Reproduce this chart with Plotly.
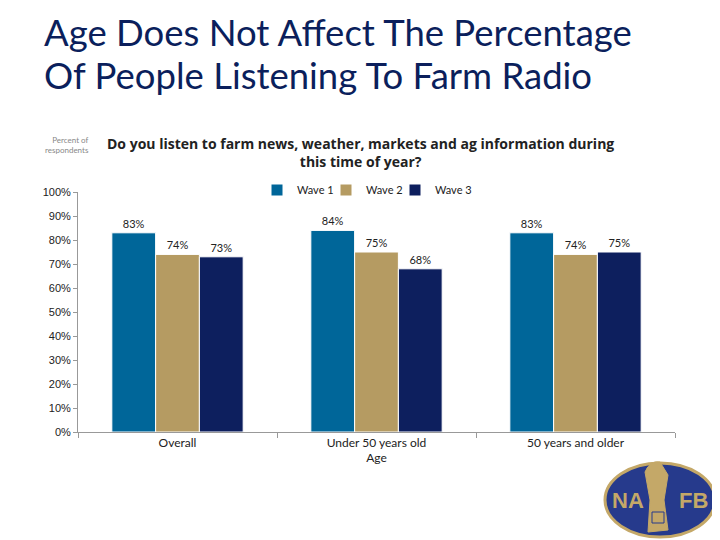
import plotly.graph_objects as go

categories = ["Overall", "Under 50 years old", "50 years and older"]
series_names = ["Wave 1", "Wave 2", "Wave 3"]
wave1 = [83, 84, 83]
wave2 = [74, 75, 74]
wave3 = [73, 68, 75]
colors = ["#006699", "#B59B62", "#0D1F5E"]
y_ticks = [0, 10, 20, 30, 40, 50, 60, 70, 80, 90, 100]

# page body has an 8px default margin; size the figure so it fits the 720x540 window
OFF = 8
W, H = 720 - OFF, 540 - OFF
L, R, T, B = 78 - OFF, 45, 192 - OFF, 108
pw, ph = W - L - R, H - T - B


def px(x):
    """reference window pixel x -> paper x"""
    return (x - OFF - L) / pw


def py(y):
    """reference window pixel y -> paper y"""
    return (H - B - (y - OFF)) / ph


FONT = "Lato"
NARROW = "Liberation Sans Narrow, Arial Narrow, Liberation Sans"

fig = go.Figure()
for i, (name, vals, c) in enumerate(zip(series_names, [wave1, wave2, wave3], colors)):
    fig.add_trace(go.Bar(
        name=name, x=categories, y=vals,
        marker=dict(color=c, line=dict(color="white", width=1)),
        text=[f"{v}%" for v in vals], textposition="outside", cliponaxis=False,
        textfont=dict(family=FONT, size=11, color="#222222"),
        legendwidth=(24 if i < 2 else 45),
    ))

fig.update_layout(
    width=W, height=H, barmode="group", bargap=0.34, bargroupgap=0,
    margin=dict(l=L, r=R, t=T, b=B, autoexpand=False),
    paper_bgcolor="white", plot_bgcolor="white",
    font=dict(family=FONT, size=11, color="#222222"),
    showlegend=True,
    legend=dict(orientation="h", x=px(257), xanchor="left", y=py(190), yanchor="middle",
                font=dict(family=FONT, size=11, color="#222222"), itemwidth=30,
                entrywidthmode="pixels",
                traceorder="normal", bgcolor="rgba(0,0,0,0)"),
    xaxis=dict(showline=True, linecolor="#999999", linewidth=1, ticks="outside", tickson="boundaries",
               ticklen=5, tickcolor="#999999", showgrid=False,
               title=dict(text="Age", font=dict(family=FONT, size=12, color="#222222"), standoff=1),
               tickfont=dict(family=FONT, size=12, color="#222222")),
    yaxis=dict(range=[0, 100], tickvals=y_ticks, ticktext=[f"{v}%" for v in y_ticks],
               showline=True, linecolor="#999999", linewidth=1, ticks="outside", ticklen=4,
               tickcolor="#999999", showgrid=False, zeroline=False,
               tickfont=dict(family=NARROW, size=11, color="#222222")),
)

ann = []
ann.append(dict(text="Age Does Not Affect The Percentage",
                xref="paper", yref="paper", x=px(42), y=py(32), xanchor="left", yanchor="middle",
                align="left", showarrow=False,
                font=dict(family=FONT, size=36.5, color="#0B1F5C")))
ann.append(dict(text="Of People Listening To Farm Radio",
                xref="paper", yref="paper", x=px(42), y=py(75), xanchor="left", yanchor="middle",
                align="left", showarrow=False,
                font=dict(family=FONT, size=36.5, color="#0B1F5C")))
ann.append(dict(text="<b>Do you listen to farm news, weather, markets and ag information during<br>this time of year?</b>",
                xref="paper", yref="paper", x=px(360), y=py(152), xanchor="center", yanchor="middle",
                align="center", showarrow=False,
                font=dict(family="Open Sans", size=14, color="#222222")))
ann.append(dict(text="Percent of<br>respondents", xref="paper", yref="paper", x=px(91), y=py(145),
                xanchor="right", yanchor="middle", align="right", showarrow=False,
                font=dict(family=FONT, size=8, color="#888888")))
# logo text
LOGO_FONT = "Liberation Sans Narrow, Liberation Sans"
ann.append(dict(text="<b>NA</b>", xref="paper", yref="paper", x=px(628), y=py(500), xanchor="center",
                yanchor="middle", showarrow=False, font=dict(family=LOGO_FONT, size=22, color="#C4A868")))
ann.append(dict(text="<b>FB</b>", xref="paper", yref="paper", x=px(693), y=py(500), xanchor="center",
                yanchor="middle", showarrow=False, font=dict(family=LOGO_FONT, size=22, color="#C4A868")))
fig.update_layout(annotations=ann)

shapes = []
shapes.append(dict(type="circle", xref="paper", yref="paper", x0=px(605), x1=px(715), y0=py(463), y1=py(537),
                   fillcolor="#263A8C", line=dict(color="#C4A868", width=3), layer="above"))
shapes.append(dict(type="path", xref="paper", yref="paper",
                   path=f"M {px(645)},{py(472)} Q {px(650)},{py(460)} {px(660)},{py(462)} L {px(668)},{py(475)} "
                        f"L {px(664)},{py(500)} L {px(668)},{py(530)} L {px(648)},{py(532)} L {px(650)},{py(500)} Z",
                   fillcolor="#C4A868", line=dict(color="#C4A868", width=1), layer="above"))
shapes.append(dict(type="rect", xref="paper", yref="paper", x0=px(652), x1=px(664), y0=py(512), y1=py(523),
                   fillcolor="#C4A868", line=dict(color="#263A8C", width=1), layer="above"))
fig.update_layout(shapes=shapes)

fig.write_html("out.html")
